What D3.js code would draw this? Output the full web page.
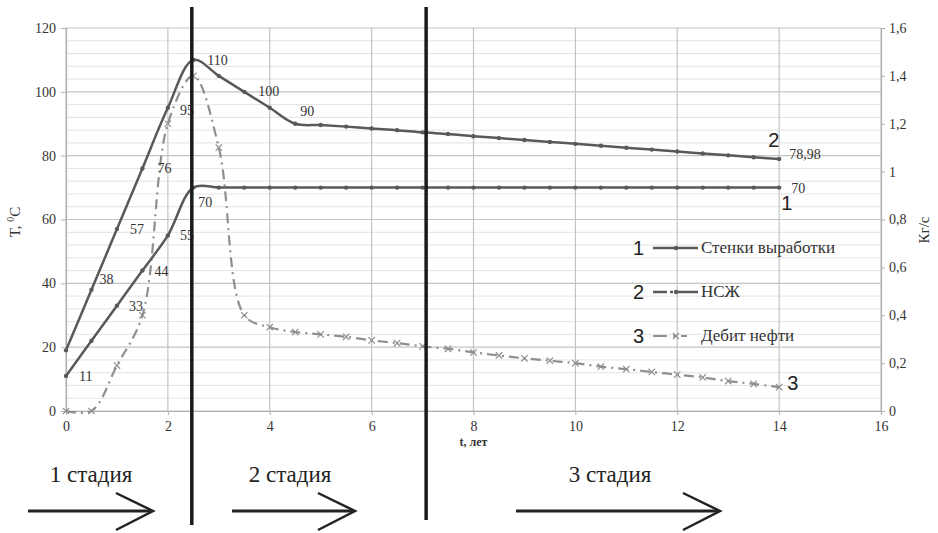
<!DOCTYPE html>
<html>
<head>
<meta charset="utf-8">
<script src="https://cdn.jsdelivr.net/npm/d3@7"></script>
<style>
  body { margin: 0; background: #fff; }
  svg { display: block; }
</style>
</head>
<body>
<div id="chart"></div>
<script>
"use strict";

//********************************* DATA *********************************
var years = [0, 0.5, 1, 1.5, 2, 2.5, 3, 3.5, 4, 4.5, 5, 5.5, 6, 6.5, 7, 7.5, 8, 8.5, 9, 9.5, 10, 10.5, 11, 11.5, 12, 12.5, 13, 13.5, 14];
var wallTemp = [11, 22, 33, 44, 55, 70, 70, 70, 70, 70, 70, 70, 70, 70, 70, 70, 70, 70, 70, 70, 70, 70, 70, 70, 70, 70, 70, 70, 70];   //1 Стенки выработки
var fluidTemp = [19, 38, 57, 76, 95, 110, 105, 100, 95, 90, 89.6, 89.1, 88.5, 88.0, 87.3, 86.8, 86.1, 85.5, 84.9, 84.3, 83.7, 83.1, 82.5, 81.9, 81.3, 80.7, 80.1, 79.5, 78.98];   //2 НСЖ
var oilRate = [0, 0, 0.19, 0.4, 1.2, 1.4, 1.1, 0.4, 0.35, 0.33, 0.32, 0.31, 0.295, 0.284, 0.27, 0.26, 0.245, 0.232, 0.22, 0.21, 0.2, 0.185, 0.175, 0.163, 0.152, 0.14, 0.125, 0.113, 0.1];   //3 Дебит нефти

var xTicks = [0, 2, 4, 6, 8, 10, 12, 14, 16];
var leftTicks = [0, 20, 40, 60, 80, 100, 120];
var rightTicks = [0, 0.2, 0.4, 0.6, 0.8, 1, 1.2, 1.4, 1.6];
var seriesNames = ["Стенки выработки", "НСЖ", "Дебит нефти"];
var stageNames = ["1 стадия", "2 стадия", "3 стадия"];
var stageBounds = [2.47, 7.07];   //years where the thick stage lines stand

//which points carry a value label
var wallLabelIdx = [0, 2, 3, 4, 5, 28];
var fluidLabelIdx = [1, 2, 3, 4, 5, 7, 9, 28];

//********************************* LAYOUT *********************************
var W = 938, H = 533;
var m = { left: 66, right: 57, top: 28, bottom: 122 };
var pw = W - m.left - m.right, ph = H - m.top - m.bottom;
var SERIF = "Liberation Serif";
var SANS = "Liberation Sans";

var svg = d3.select("#chart").append("svg").attr("width", W).attr("height", H);

var x = d3.scaleLinear().domain([0, 16]).range([m.left, m.left + pw]);
var yL = d3.scaleLinear().domain([0, 120]).range([m.top + ph, m.top]);
var yR = d3.scaleLinear().domain([0, 1.6]).range([m.top + ph, m.top]);

var comma = function(v){ return String(v).replace(".", ","); };

//gridlines - minor every 4, major every 20
var g = svg.append("g");
g.selectAll("line.minor")
  .data(d3.range(0, 121, 4).filter(function(v){ return v % 20 !== 0; }))
  .enter().append("line")
  .attr("x1", m.left).attr("x2", m.left + pw)
  .attr("y1", function(d){ return yL(d); }).attr("y2", function(d){ return yL(d); })
  .attr("stroke", "#e3e3e3").attr("stroke-width", 1);
g.selectAll("line.hmaj")
  .data(leftTicks)
  .enter().append("line")
  .attr("x1", m.left).attr("x2", m.left + pw)
  .attr("y1", function(d){ return yL(d); }).attr("y2", function(d){ return yL(d); })
  .attr("stroke", "#c4c4c4").attr("stroke-width", 1.2);
g.selectAll("line.vmaj")
  .data(xTicks)
  .enter().append("line")
  .attr("x1", function(d){ return x(d); }).attr("x2", function(d){ return x(d); })
  .attr("y1", m.top).attr("y2", m.top + ph)
  .attr("stroke", "#c4c4c4").attr("stroke-width", 1.2);

//axes
var axL = svg.append("g").attr("transform", "translate(" + m.left + ",0)")
  .call(d3.axisLeft(yL).tickValues(leftTicks).tickSize(5).tickPadding(5));
var axR = svg.append("g").attr("transform", "translate(" + (m.left + pw) + ",0)")
  .call(d3.axisRight(yR).tickValues(rightTicks).tickSize(4).tickPadding(4).tickFormat(comma));
var axB = svg.append("g").attr("transform", "translate(0," + (m.top + ph) + ")")
  .call(d3.axisBottom(x).tickValues(xTicks).tickSize(4).tickPadding(6));
[axL, axR, axB].forEach(function(a){
  a.attr("font-family", null).attr("font-size", null);
  a.select(".domain").attr("stroke", "#b0b0b0").attr("stroke-width", 1.2);
  a.selectAll(".tick line").attr("stroke", "#b0b0b0");
  a.selectAll("text").attr("fill", "#333").style("font-family", SERIF).style("font-size", "14px");
});

//axis titles
var tl = svg.append("text").style("font-family", SERIF).style("font-size", "15px").attr("fill", "#333")
  .attr("transform", "translate(20,222) rotate(-90)").attr("text-anchor", "middle");
tl.append("tspan").text("T, ");
tl.append("tspan").style("font-size", "10px").attr("dy", -6).text("0");
tl.append("tspan").attr("dy", 6).text("C");
svg.append("text").style("font-family", SERIF).style("font-size", "15px").attr("fill", "#333")
  .attr("transform", "translate(929,230) rotate(-90)").attr("text-anchor", "middle").text("Кг/с");
svg.append("text").style("font-family", SERIF).style("font-size", "12px").attr("font-weight", "bold").attr("fill", "#333")
  .attr("x", x(8)).attr("y", 446).attr("text-anchor", "middle").text("t, лет");

//********************************* SERIES *********************************
var lineL = d3.line().x(function(d, i){ return x(years[i]); }).y(function(d){ return yL(d); })
  .curve(d3.curveCatmullRom.alpha(0.5));
var lineR = d3.line().x(function(d, i){ return x(years[i]); }).y(function(d){ return yR(d); })
  .curve(d3.curveCatmullRom.alpha(0.5));

var dark = "#595959", light = "#8f8f8f";

svg.append("path").datum(oilRate).attr("d", lineR).attr("fill", "none")
  .attr("stroke", light).attr("stroke-width", 2.2).attr("stroke-dasharray", "10,5,2,5");
svg.selectAll("path.xm").data(oilRate).enter().append("path")
  .attr("d", function(d, i){
    var cx = x(years[i]), cy = yR(d), s = 3.2;
    return "M" + (cx - s) + "," + (cy - s) + "L" + (cx + s) + "," + (cy + s) +
           "M" + (cx - s) + "," + (cy + s) + "L" + (cx + s) + "," + (cy - s);
  })
  .attr("stroke", light).attr("stroke-width", 1.2);

[wallTemp, fluidTemp].forEach(function(s){
  svg.append("path").datum(s).attr("d", lineL).attr("fill", "none")
    .attr("stroke", dark).attr("stroke-width", 2.5);
  svg.append("g").selectAll("circle").data(s).enter().append("circle")
    .attr("cx", function(d, i){ return x(years[i]); })
    .attr("cy", function(d){ return yL(d); })
    .attr("r", 2.2).attr("fill", dark);
});

//value labels
var wallOff = { 0: [13, 5], 2: [12, 5], 3: [12, 5], 4: [12, 5], 5: [5, 19], 28: [12, 5] };
var fluidOff = { 1: [8, -6], 2: [13, 5], 3: [15, 5], 4: [12, 7], 5: [14, 5], 7: [14, 4], 9: [5, -8], 28: [10, 0] };
svg.append("g").selectAll("text").data(wallLabelIdx).enter().append("text")
  .style("font-family", SERIF).style("font-size", "14px").attr("fill", "#333")
  .attr("x", function(i){ return x(years[i]) + wallOff[i][0]; })
  .attr("y", function(i){ return yL(wallTemp[i]) + wallOff[i][1]; })
  .text(function(i){ return comma(wallTemp[i]); });
svg.append("g").selectAll("text").data(fluidLabelIdx).enter().append("text")
  .style("font-family", SERIF).style("font-size", "14px").attr("fill", "#333")
  .attr("x", function(i){ return x(years[i]) + fluidOff[i][0]; })
  .attr("y", function(i){ return yL(fluidTemp[i]) + fluidOff[i][1]; })
  .text(function(i){ return comma(fluidTemp[i]); });

//big curve numbers
var last = years.length - 1;
svg.append("text").style("font-family", SANS).style("font-size", "20px").attr("fill", "#222")
  .attr("x", x(14) - 11).attr("y", yL(fluidTemp[last]) - 12).text("2");
svg.append("text").style("font-family", SANS).style("font-size", "20px").attr("fill", "#222")
  .attr("x", x(14) + 2).attr("y", yL(wallTemp[last]) + 22).text("1");
svg.append("text").style("font-family", SANS).style("font-size", "20px").attr("fill", "#222")
  .attr("x", x(14) + 8).attr("y", yR(oilRate[last]) + 3).text("3");

//legend
var lg = svg.append("g").attr("transform", "translate(633,0)");
var legY = [248, 292, 336];
seriesNames.forEach(function(n, i){
  var row = lg.append("g").attr("transform", "translate(0," + legY[i] + ")");
  row.append("text").style("font-family", SANS).style("font-size", "20px").attr("fill", "#222")
    .attr("y", 7).text(String(i + 1));
  if(i < 2){
    row.append("line").attr("x1", 20).attr("x2", 65).attr("stroke", dark).attr("stroke-width", 2.5)
      .attr("stroke-dasharray", i === 1 ? "14,3,3,3,30" : null);
    row.append("circle").attr("cx", 43).attr("r", 2.2).attr("fill", dark);
  }
  else{
    row.append("line").attr("x1", 20).attr("x2", 65).attr("stroke", light).attr("stroke-width", 2.2)
      .attr("stroke-dasharray", "14,6,2,6,6");
    row.append("path").attr("d", "M40,-3L46,3M40,3L46,-3").attr("stroke", light).attr("stroke-width", 1.2);
  }
  row.append("text").style("font-family", SERIF).style("font-size", "17px").attr("fill", "#333")
    .attr("x", 68).attr("y", 5).text(n);
});

//********************************* STAGES *********************************
var stageLineEnd = [525, 520];
stageBounds.forEach(function(b, i){
  svg.append("line").attr("x1", x(b)).attr("x2", x(b)).attr("y1", 7).attr("y2", stageLineEnd[i])
    .attr("stroke", "#1a1a1a").attr("stroke-width", 3.5);
});

var stageTextX = [91, 290, 610];
var arrows = [[28, 153], [232, 355], [516, 720]];
stageNames.forEach(function(n, i){
  svg.append("text").style("font-family", SERIF).style("font-size", "23px").attr("fill", "#222")
    .attr("x", stageTextX[i]).attr("y", 482).attr("text-anchor", "middle").text(n);
  var a = arrows[i], ay = 511;
  svg.append("line").attr("x1", a[0]).attr("x2", a[1] - 2).attr("y1", ay).attr("y2", ay)
    .attr("stroke", "#222").attr("stroke-width", 3);
  svg.append("path").attr("d", "M" + (a[1] - 37) + "," + (ay - 18) + "L" + a[1] + "," + ay + "L" + (a[1] - 37) + "," + (ay + 19))
    .attr("fill", "none").attr("stroke", "#222").attr("stroke-width", 2.5);
});
</script>
</body>
</html>
